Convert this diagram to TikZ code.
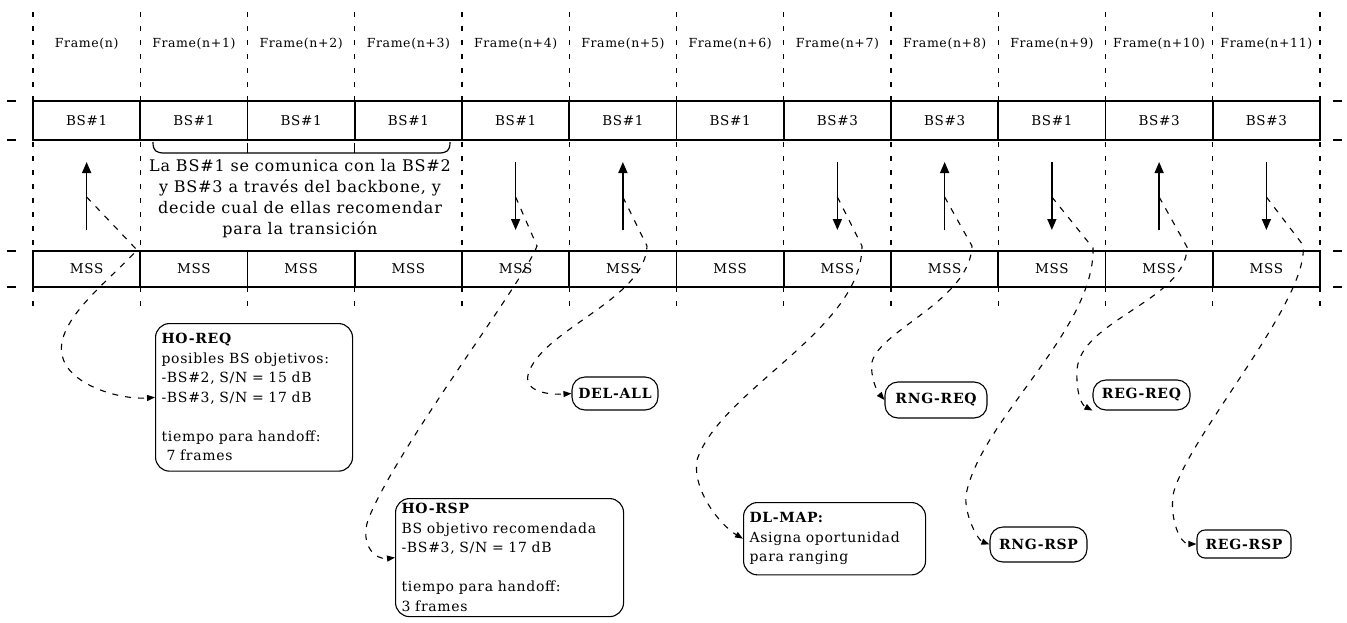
\documentclass[tikz,border=0pt]{standalone}
\usepackage{fontspec}
\setmainfont{DejaVu Serif}[LetterSpace=5]
\usetikzlibrary{arrows.meta,calc}
\begin{document}
\begin{tikzpicture}[x=1pt,y=-1pt,
  cell/.style={draw,line width=1.6pt,minimum width=107.25pt,inner sep=0pt,font=\fontsize{13.5}{15}\selectfont},
  vdash/.style={line width=1.1pt,dash pattern=on 5pt off 9pt},
  sig/.style={line width=1.5pt,-{Triangle[length=11pt,width=9pt]}},
  flow/.style={line width=1.1pt,dash pattern=on 6pt off 7pt,-{Triangle[length=8pt,width=6pt]}},
  msg/.style={draw,line width=1.1pt,rounded corners=14pt,align=left,anchor=north west,inner xsep=6pt,inner ysep=10pt,font=\fontsize{14}{19.5}\selectfont},
  pill/.style={draw,line width=1.1pt,rounded corners=13pt,inner sep=0pt,font=\fontsize{14}{16}\selectfont\bfseries},
  framelbl/.style={font=\fontsize{12.5}{14}\selectfont},
]
\useasboundingbox (0,0) rectangle (1347,622);

% vertical dashed frame boundaries
\foreach \i in {0,...,12} {
  \draw[vdash] ({33+\i*107.25},12) -- ({33+\i*107.25},101);
  \draw[vdash] ({33+\i*107.25},287) -- ({33+\i*107.25},314);
}
\foreach \i in {0,1,4,5,6,7,8,9,10,11,12} {
  \draw[vdash] ({33+\i*107.25},142) -- ({33+\i*107.25},251);
}
\foreach \i in {2,3} {
  \draw[line width=1.1pt] ({33+\i*107.25},143) -- ({33+\i*107.25},153);
}
% short dashes continuing the row lines
\foreach \y in {101,140,251,287} {
  \draw[line width=1.3pt] (7,\y) -- (16,\y);
  \draw[line width=1.3pt] (1333,\y) -- (1342,\y);
}

% cells and frame labels
\foreach \i/\b/\f in {1/1/n,2/1/n+1,3/1/n+2,4/1/n+3,5/1/n+4,6/1/n+5,7/1/n+6,8/3/n+7,9/3/n+8,10/1/n+9,11/3/n+10,12/3/n+11} {
  \node[framelbl] (fr\i) at ({33+(\i-0.5)*107.25},44) {Frame(\f)};
  \node[cell,minimum height=39pt] (bs\i) at ({33+(\i-0.5)*107.25},120.5) {BS\#\b};
  \node[cell,minimum height=36pt] (mss\i) at ({33+(\i-0.5)*107.25},269) {MSS};
  \coordinate (lo\i) at ({33+(\i-0.5)*107.25},230);
  \coordinate (hi\i) at ({33+(\i-0.5)*107.25},162);
  \coordinate (m\i) at ({33+(\i-0.5)*107.25},197);
}

% signal arrows
\foreach \i in {1,6,9,11} { \draw[sig] (lo\i) -- (hi\i); }
\foreach \i in {5,8,10,12} { \draw[sig] (hi\i) -- (lo\i); }

% bracket and note
\draw[line width=1.2pt] (153,142) .. controls (153,151) and (156,153) .. (165,153) -- (438,153) .. controls (447,153) and (450,151) .. (450,142);
\node[font=\fontsize{16}{21}\selectfont,align=center,inner sep=0pt] (note) at (300,199)
  {La BS\#1 se comunica con la BS\#2\\y BS\#3 a través del backbone, y\\decide cual de ellas recomendar\\para la transición};

% message boxes
\node[msg,text width=185pt] (hoReq) at (155,323)
  {\textbf{HO-REQ}\\posibles BS objetivos:\\-BS\#2, S/N = 15 dB\\-BS\#3, S/N = 17 dB\\[19.5pt]tiempo para handoff:\\\hspace*{5pt}7 frames};
\node[msg,text width=216pt,inner ysep=5pt,font=\fontsize{14}{19.5}\selectfont] (hoRsp) at (395,498)
  {\textbf{HO-RSP}\\BS objetivo recomendada\\-BS\#3, S/N = 17 dB\\[19.5pt]tiempo para handoff:\\3 frames};
\node[msg,text width=170pt,inner ysep=10pt] (dlMap) at (743,502)
  {\textbf{DL-MAP:}\\Asigna oportunidad\\para ranging};
\node[pill,minimum width=86pt,minimum height=33pt] (delAll) at (615,393.5) {DEL-ALL};
\node[pill,minimum width=102pt,minimum height=36pt] (rngReq) at (936,400) {RNG-REQ};
\node[pill,minimum width=97pt,minimum height=35pt] (rngRsp) at (1038.5,544.5) {RNG-RSP};
\node[pill,minimum width=97pt,minimum height=30pt] (regReq) at (1141.5,395) {REG-REQ};
\node[pill,rounded corners=8pt,minimum width=94pt,minimum height=28pt] (regRsp) at (1244,544) {REG-RSP};

% dashed message flows
\draw[flow] (m1) -- (137,250) .. controls (110,280) and (55,320) .. (62,355) .. controls (68,385) and (120,400) .. (hoReq.west);
\draw[flow] (m5) -- (537,246) .. controls (525,280) and (395,450) .. (368,520) .. controls (360,545) and (375,560) .. (hoRsp.west);
\draw[flow] (m6) -- (647,246) .. controls (645,300) and (540,330) .. (528,375) .. controls (524,392) and (550,395) .. (delAll.west);
\draw[flow] (m8) -- (862,246) .. controls (862,330) and (720,390) .. (697,460) .. controls (692,490) and (720,525) .. (dlMap.west);
\draw[flow] (m9) -- (972,246) .. controls (970,300) and (880,330) .. (872,362) .. controls (870,375) and (876,390) .. (rngReq.west);
\draw[flow] (m10) -- (1093,248) .. controls (1095,330) and (980,420) .. (966,495) .. controls (964,515) and (978,540) .. (rngRsp.west);
\draw[flow] (m11) -- (1187,247) .. controls (1187,300) and (1080,320) .. (1077,370) .. controls (1076,395) and (1082,405) .. (regReq.south west);
\draw[flow] (m12) -- (1303,245) .. controls (1310,300) and (1185,440) .. (1173,495) .. controls (1170,520) and (1180,544) .. (regRsp.west);
\end{tikzpicture}
\end{document}
